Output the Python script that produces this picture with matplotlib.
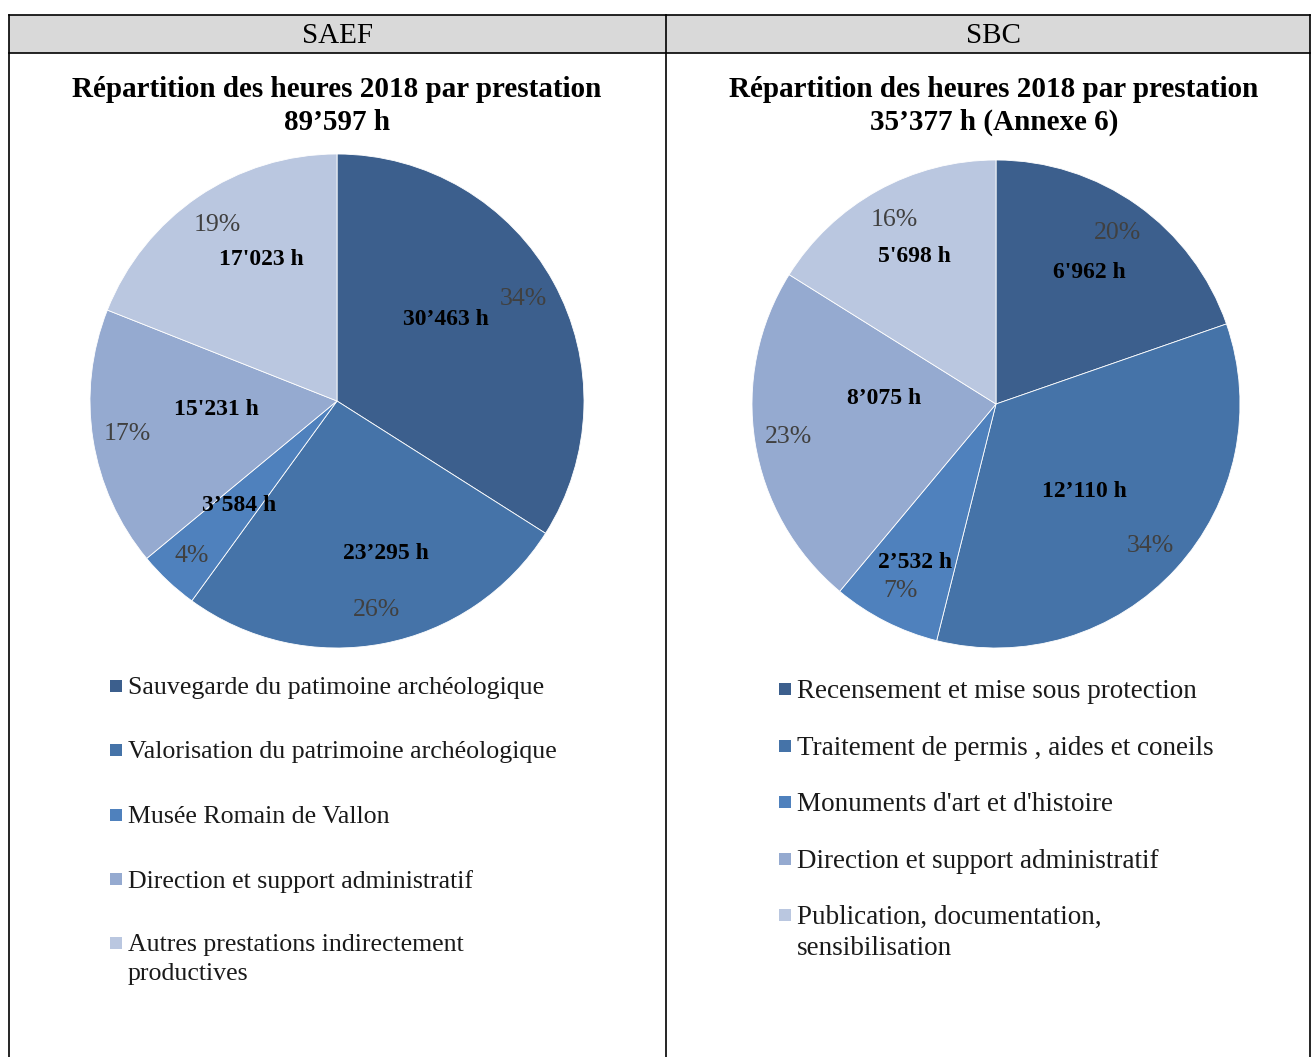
import numpy as np
import matplotlib
matplotlib.use("Agg")
import matplotlib.pyplot as plt
from matplotlib.patches import Rectangle
from matplotlib.lines import Line2D

plt.rcParams['font.family'] = ['Liberation Serif', 'DejaVu Serif']

# --- data ---
saef_labels = ["Sauvegarde du patimoine archéologique",
               "Valorisation du patrimoine archéologique",
               "Musée Romain de Vallon",
               "Direction et support administratif",
               "Autres prestations indirectement\nproductives"]
saef_hours = [30463, 23295, 3584, 15231, 17023]
saef_text = ["30\u2019463 h", "23\u2019295 h", "3\u2019584 h", "15'231 h", "17'023 h"]
saef_pct = ["34%", "26%", "4%", "17%", "19%"]

sbc_labels = ["Recensement et mise sous protection",
              "Traitement de permis , aides et coneils",
              "Monuments d'art et d'histoire",
              "Direction et support administratif",
              "Publication, documentation,\nsensibilisation"]
sbc_hours = [6962, 12110, 2532, 8075, 5698]
sbc_text = ["6'962 h", "12\u2019110 h", "2\u2019532 h", "8\u2019075 h", "5'698 h"]
sbc_pct = ["20%", "34%", "7%", "23%", "16%"]

colors = ["#3c5f8d", "#4573a8", "#4f81bd", "#95aad0", "#bac7e0"]

W, H = 1312, 1057
fig = plt.figure(figsize=(W / 100, H / 100), dpi=100)


def fx(px):
    return px / W


def fy(py):
    return 1 - py / H


# table frame
fig.add_artist(Rectangle((fx(9), fy(53)), fx(1310) - fx(9), fy(15) - fy(53),
                         transform=fig.transFigure, facecolor="#d9d9d9",
                         edgecolor="none", zorder=0))
line_kw = dict(transform=fig.transFigure, color="black", lw=1.2)
fig.add_artist(Line2D([fx(9), fx(1310)], [fy(15), fy(15)], **line_kw))
fig.add_artist(Line2D([fx(9), fx(1310)], [fy(53), fy(53)], **line_kw))
for x in (9, 666, 1310):
    fig.add_artist(Line2D([fx(x), fx(x)], [fy(15), 0], **line_kw))

fig.text(fx(337), fy(36), "SAEF", ha="center", va="center", fontsize=21)
fig.text(fx(994), fy(36), "SBC", ha="center", va="center", fontsize=21)


def draw_panel(cx, cy, r, hours, vtext, ptext, vr, voff, title, tx,
               labels, lx, ly0, lstep, lfs, lls):
    fig.text(fx(tx), fy(106), title, ha="center", va="center",
             fontsize=21, fontweight="bold", linespacing=1.25)
    ax = fig.add_axes([fx(cx - r), fy(cy + r), 2 * r / W, 2 * r / H])
    wedges, _ = ax.pie(hours, colors=colors, startangle=90, counterclock=False,
                       wedgeprops=dict(edgecolor="white", linewidth=0.6))
    ax.set_xlim(-1, 1)
    ax.set_ylim(-1, 1)
    for i, w in enumerate(wedges):
        mid = np.deg2rad((w.theta1 + w.theta2) / 2)
        a = mid + np.deg2rad(voff[i])
        ax.text(vr[i] * np.cos(a), vr[i] * np.sin(a), vtext[i], ha="center",
                va="center", fontsize=17, fontweight="bold", color="black")
        ax.text(0.86 * np.cos(mid), 0.86 * np.sin(mid), ptext[i], ha="center",
                va="center", fontsize=18.5, color="#404040")
    # legend
    y = ly0
    fpx = lfs * 100 / 72
    for i, lab in enumerate(labels):
        fig.add_artist(Rectangle((fx(lx), fy(y + 6)), 12 / W, 12 / H,
                                 transform=fig.transFigure,
                                 facecolor=colors[i], edgecolor="none"))
        fig.text(fx(lx + 18), fy(y - 0.62 * fpx + 7), lab, ha="left", va="top",
                 fontsize=lfs, color="#1a1a1a", linespacing=lls)
        y += lstep


draw_panel(337, 401, 247, saef_hours, saef_text, saef_pct,
           [0.55, 0.65, 0.58, 0.49, 0.65], [8, 7, 0, -5, -6],
           "Répartition des heures 2018 par prestation\n89\u2019597 h", 337,
           saef_labels, 110, 686, 64.3, 18.6, 1.42)
draw_panel(996, 404, 244, sbc_hours, sbc_text, sbc_pct,
           [0.66, 0.51, 0.73, 0.46, 0.69], [0, -2, 0, -12, 0],
           "Répartition des heures 2018 par prestation\n35\u2019377 h (Annexe 6)", 994,
           sbc_labels, 779, 689, 56.5, 19.5, 1.3)

fig.savefig("out.png", dpi=100)
